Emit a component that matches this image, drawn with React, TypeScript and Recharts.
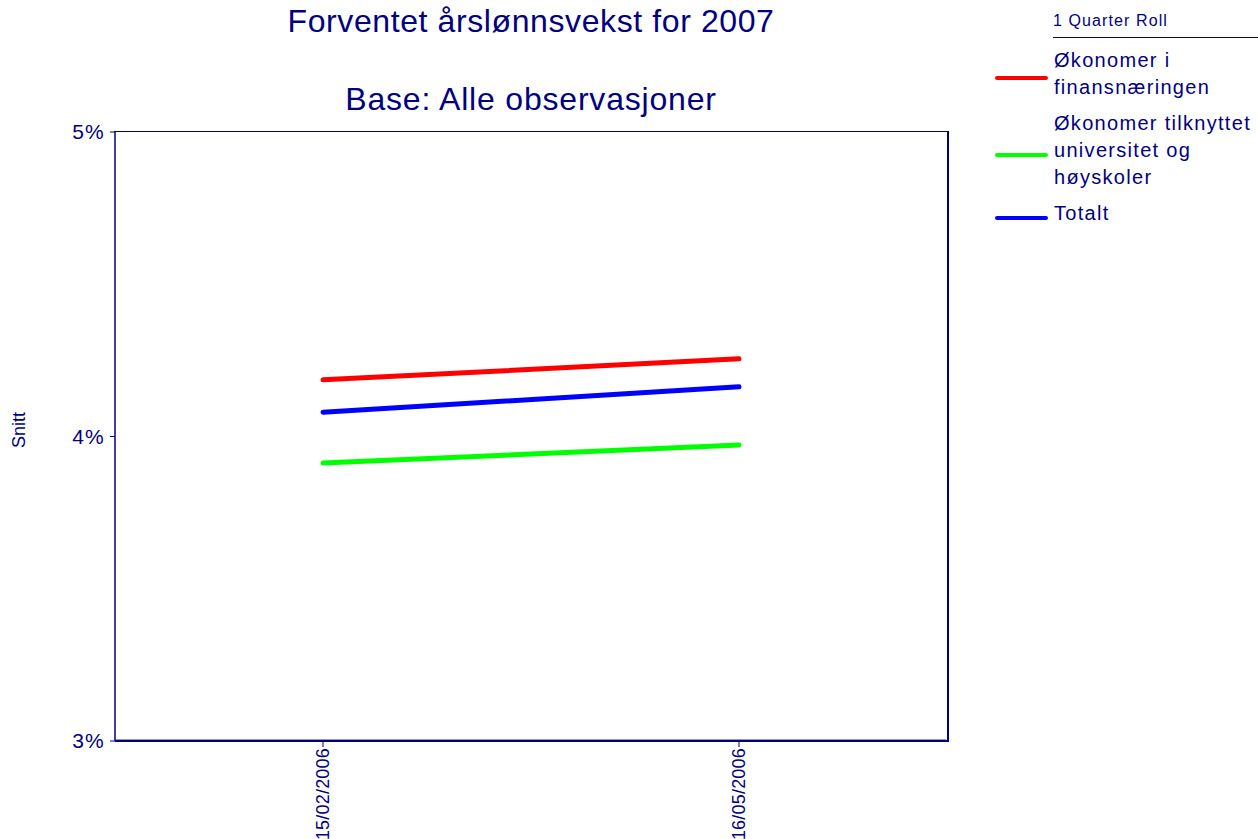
import React from "react";
import {
  LineChart,
  Line,
  XAxis,
  YAxis,
} from "recharts";

const categories = ["15/02/2006", "16/05/2006"];
const finans = [4.186, 4.255];
const universitet = [3.913, 3.972];
const totalt = [4.08, 4.163];
const yTicks = [3, 4, 5];

const seriesInfo = [
  { key: "finans", lines: ["Økonomer i", "finansnæringen"], color: "#ff0000" },
  { key: "universitet", lines: ["Økonomer tilknyttet", "universitet og", "høyskoler"], color: "#00ff00" },
  { key: "totalt", lines: ["Totalt"], color: "#0000ff" },
];

const data = categories.map((date, i) => ({
  date,
  finans: finans[i],
  universitet: universitet[i],
  totalt: totalt[i],
}));

const NAVY = "#000080";
const FONT = "Arial, 'Liberation Sans', sans-serif";

const DateTick = (props: any) => {
  const { x, y, payload } = props;
  return (
    <text
      x={0}
      y={0}
      transform={`translate(${x + 6},${y - 1}) rotate(-90)`}
      textAnchor="end"
      fill={NAVY}
      fontSize={18}
      letterSpacing={0.2}
      fontFamily={FONT}
    >
      {payload.value}
    </text>
  );
};

export default function App() {
  return (
    <div
      style={{
        position: "absolute",
        left: 0,
        top: 0,
        width: 1258,
        height: 839,
        overflow: "hidden",
        background: "#fff",
        fontFamily: FONT,
        color: NAVY,
      }}
    >
      <div style={{ position: "absolute", left: 115, width: 832, top: 5, textAlign: "center", fontSize: 32, lineHeight: "32px", letterSpacing: 0.6 }}>
        Forventet årslønnsvekst for 2007
      </div>
      <div style={{ position: "absolute", left: 115, width: 832, top: 83, textAlign: "center", fontSize: 32, lineHeight: "32px", letterSpacing: 0.8 }}>
        Base: Alle observasjoner
      </div>
      <div
        style={{
          position: "absolute",
          left: 19,
          top: 430,
          fontSize: 18,
          transform: "translate(-50%, -50%) rotate(-90deg)",
          whiteSpace: "nowrap",
        }}
      >
        Snitt
      </div>

      <LineChart
        width={1258}
        height={839}
        data={data}
        margin={{ top: 132, right: 311, bottom: 0, left: 0 }}
      >
        <XAxis
          dataKey="date"
          scale="band"
          height={98}
          axisLine={{ stroke: NAVY, strokeWidth: 2 }}
          tickLine={{ stroke: NAVY }}
          tickSize={6}
          tick={<DateTick />}
          interval={0}
        />
        <YAxis
          width={115}
          domain={[3, 5]}
          ticks={yTicks}
          tickFormatter={(v) => `${v}%`}
          axisLine={{ stroke: NAVY, strokeWidth: 1.5 }}
          tickLine={{ stroke: NAVY }}
          tickSize={5}
          tickMargin={5}
          tick={{ fill: NAVY, fontSize: 21, fontFamily: FONT, letterSpacing: 1.2 }}
        />
        {seriesInfo.map((s) => (
          <Line
            key={s.key}
            dataKey={s.key}
            stroke={s.color}
            strokeWidth={5}
            strokeLinecap="round"
            dot={false}
            activeDot={false}
            isAnimationActive={false}
          />
        ))}
      </LineChart>

      {/* plot frame: top/right border and the grey line above the x axis */}
      <div
        style={{
          position: "absolute",
          left: 114,
          top: 131,
          width: 833,
          height: 610,
          borderTop: `1.5px solid ${NAVY}`,
          borderRight: `2px solid ${NAVY}`,
          pointerEvents: "none",
        }}
      />
      <div style={{ position: "absolute", left: 116, width: 830, top: 739, height: 1, background: "#9a9a9a" }} />

      <div style={{ position: "absolute", left: 1053, top: 13, fontSize: 16, lineHeight: "16px", letterSpacing: 1.1, whiteSpace: "nowrap" }}>
        1 Quarter Roll
      </div>
      <div style={{ position: "absolute", left: 1053, right: 0, top: 37, borderTop: `1.5px solid ${NAVY}` }} />
      <div style={{ position: "absolute", left: 995, top: 47, width: 263 }}>
        {seriesInfo.map((s) => (
          <div key={s.key} style={{ display: "flex", alignItems: "center", marginBottom: 9 }}>
            <div
              style={{
                width: 53,
                height: 4,
                borderRadius: 2,
                background: s.color,
                marginRight: 6,
                marginTop: 8,
                flexShrink: 0,
              }}
            />
            <div style={{ fontSize: 20, lineHeight: "27px", letterSpacing: 1.3, whiteSpace: "nowrap" }}>
              {s.lines.map((l, i) => (
                <div key={i}>{l}</div>
              ))}
            </div>
          </div>
        ))}
      </div>
    </div>
  );
}
